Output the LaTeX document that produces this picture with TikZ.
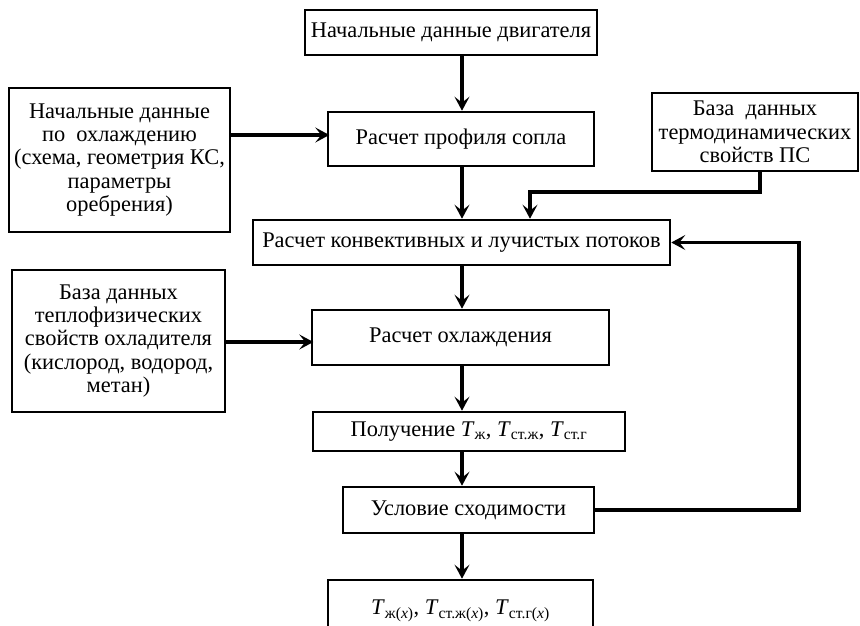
\documentclass[tikz,border=0pt]{standalone}
\usepackage{fontspec}
\setmainfont{Liberation Serif}
\usetikzlibrary{arrows.meta}
\newcommand{\Tsub}[1]{\textit{T}\textsubscript{#1}}
\begin{document}
\begin{tikzpicture}[x=1pt,y=-1pt,
  box/.style={draw, line width=2.6pt, align=center, inner sep=0pt,
    font=\fontsize{22.4}{23.3}\selectfont},
  arr/.style={line width=3.4pt, line join=miter,
    -{Stealth[length=14pt,width=15pt,inset=6pt]}}]
\useasboundingbox (0,0) rectangle (860,626);
\clip (0,0) rectangle (860,626);
\coordinate (cx) at (462,0);
\node[box, minimum width=292pt, minimum height=45pt] (top) at (451,32.5) {Начальные данные двигателя};
\node[box, minimum width=266pt, minimum height=54pt] (prof) at (461,139) {Расчет профиля сопла};
\node[box, minimum width=221pt, minimum height=144pt] (left1) at (119.5,160) {Начальные данные\\по\ \ охлаждению\\(схема, геометрия КС,\\параметры\\оребрения)};
\node[box, minimum width=206pt, minimum height=78pt] (right1) at (755,132) {База\ \ данных\\термодинамических\\свойств ПС};
\node[box, minimum width=417pt, minimum height=45pt] (conv) at (461.5,242.5) {Расчет конвективных и лучистых потоков};
\node[box, minimum width=213pt, minimum height=142pt] (left2) at (118.5,341) {База данных\\теплофизических\\свойств охладителя\\(кислород, водород,\\метан)};
\node[box, minimum width=297pt, minimum height=55pt] (cool) at (460.5,337.5) {Расчет охлаждения};
\node[box, minimum width=312pt, minimum height=39pt] (get) at (469,431.5) {Получение \Tsub{ж}, \Tsub{ст.ж}, \Tsub{ст.г}};
\node[box, minimum width=251pt, minimum height=46pt] (cond) at (468.5,510) {Условие сходимости};
\node[box, minimum width=265pt, minimum height=64pt] (fin) at (460.5,612) {\raisebox{9pt}{\Tsub{ж(\textit{x})}, \Tsub{ст.ж(\textit{x})}, \Tsub{ст.г(\textit{x})}}};
\coordinate (fb) at (799,0);
\coordinate (rl) at (760,0);
\coordinate (ml) at (530,192);
\draw[arr] (top.south -| cx) -- (prof.north -| cx);
\draw[arr] (prof.south -| cx) -- (conv.north -| cx);
\draw[arr] (conv.south -| cx) -- (cool.north -| cx);
\draw[arr] (cool.south -| cx) -- (get.north -| cx);
\draw[arr] (get.south -| cx) -- (cond.north -| cx);
\draw[arr] (cond.south -| cx) -- (fin.north -| cx);
\draw[arr] (left1.east |- prof.west) ++(0,-4) -- ++(98,0);
\draw[arr] (left2.east |- cool.west) ++(0,4.5) -- ++(87,0);
\draw[arr] (right1.south -| rl) |- (ml) -- (conv.north -| ml);
\draw[arr] (cond.east) -| (fb |- conv.east) -- (conv.east);
\end{tikzpicture}
\end{document}
